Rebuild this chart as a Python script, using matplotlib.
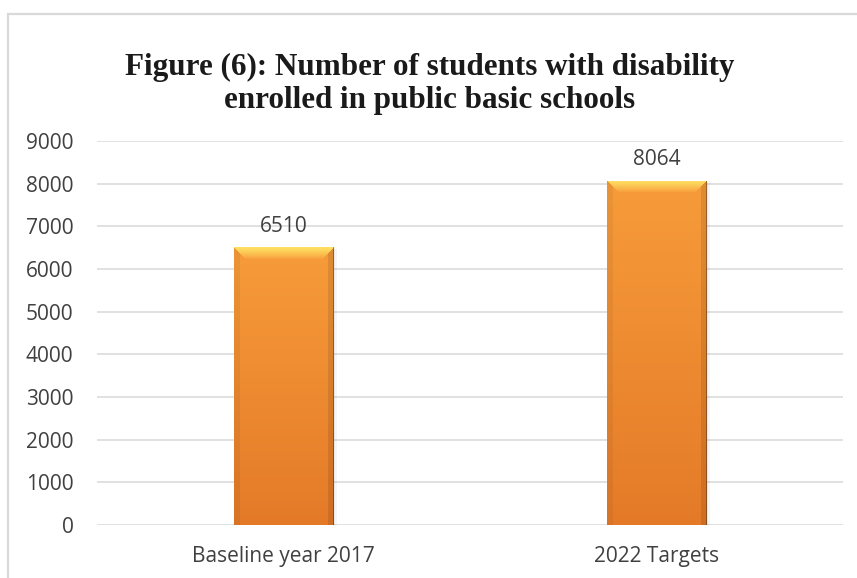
import numpy as np
import matplotlib.pyplot as plt
from matplotlib.patches import Rectangle
from matplotlib.colors import to_rgb

categories = ["Baseline year 2017", "2022 Targets"]
students = [6510, 8064]
yticks = list(range(0, 9001, 1000))

title = "Figure (6): Number of students with disability\nenrolled in public basic schools"

W, H = 857, 578
fig = plt.figure(figsize=(W / 100, H / 100), dpi=100)
fig.patch.set_facecolor("white")

# light frame around the chart (runs off the right and bottom edges)
fig.patches.append(Rectangle((8 / W, -0.05), 1.2, 1 - 14 / H + 0.05,
                             transform=fig.transFigure, fill=False,
                             edgecolor="#D9D9D9", linewidth=1.6))

ax = fig.add_axes([97 / W, 53 / H, 746 / W, 384 / H])
x = np.arange(len(categories))
bars = ax.bar(x, students, width=0.268, color="#F39334", zorder=2)

ax.set_xlim(-0.5, len(categories) - 0.5)
ax.set_ylim(0, 9000)
ax.set_yticks(yticks)
ax.set_xticks(x)
ax.set_xticklabels(categories)
ax.yaxis.grid(True, color="#D9D9D9", linewidth=1.1)
ax.set_axisbelow(True)
for s in ax.spines.values():
    s.set_visible(False)
ax.tick_params(length=0, labelsize=15, labelcolor="#404040")
ax.tick_params(axis="x", pad=15)
ax.tick_params(axis="y", pad=17)
for lab in ax.get_xticklabels() + ax.get_yticklabels():
    lab.set_fontfamily("Open Sans")

# bevelled orange fill for each bar
top_c = np.array(to_rgb("#F79C3A"))
bot_c = np.array(to_rgb("#E47A28"))
hi_c = np.array(to_rgb("#FFE063"))
fig.canvas.draw()
for i, b in enumerate(bars):
    x0, y0 = b.get_x(), b.get_y()
    bw, bh = b.get_width(), b.get_height()
    p0 = ax.transData.transform((x0, y0))
    p1 = ax.transData.transform((x0 + bw, y0 + bh))
    pw, ph = int(round(p1[0] - p0[0])), int(round(p1[1] - p0[1]))
    rr, cc = np.mgrid[0:ph, 0:pw]
    t = (rr / max(ph - 1, 1))[..., None]
    img = top_c * (1 - t) + bot_c * t
    bev = 12
    # top bevel with highlight
    top = (rr < bev) & (cc >= rr) & (cc <= pw - 1 - rr)
    f = ((rr / bev) ** 1.2)[..., None]
    hl = hi_c * (1 - f) + top_c * f
    img = np.where(top[..., None], hl, img)
    # left and right bevels
    left = (cc < 6) & (rr > cc)
    right = (cc > pw - 7) & (rr > pw - 1 - cc)
    img = np.where(left[..., None], img * 0.95, img)
    img = np.where(right[..., None], img * 0.9, img)
    # thin dark rim on the right edge
    img[:, -1] = img[:, -1] * 0.7
    # soft grey shadow to the right
    for k, a in enumerate([0.16, 0.09, 0.04]):
        ax.add_patch(Rectangle((x0 + bw + k * 0.0027, y0), 0.0027, bh * 0.995,
                               facecolor="#000000", alpha=a, linewidth=0, zorder=1.5))
    im = ax.imshow(np.clip(img, 0, 1), extent=(x0, x0 + bw, y0, y0 + bh),
                   origin="upper", aspect="auto", zorder=3, interpolation="bilinear")
    im.set_clip_path(b)
    b.set_facecolor("none")
    ax.text(x0 + bw / 2, y0 + bh + 250, f"{students[i]}",
            ha="center", va="bottom", fontsize=15, color="#404040",
            fontfamily="Open Sans")

ax.set_xlim(-0.5, len(categories) - 0.5)
ax.set_ylim(0, 9000)

fig.text(430 / W, 1 - 84 / H, title, ha="center", va="center",
         fontsize=22.4, fontweight="bold", fontfamily="Liberation Serif",
         color="#1A1A1A", linespacing=1.18)

fig.savefig("out.png", dpi=100)
